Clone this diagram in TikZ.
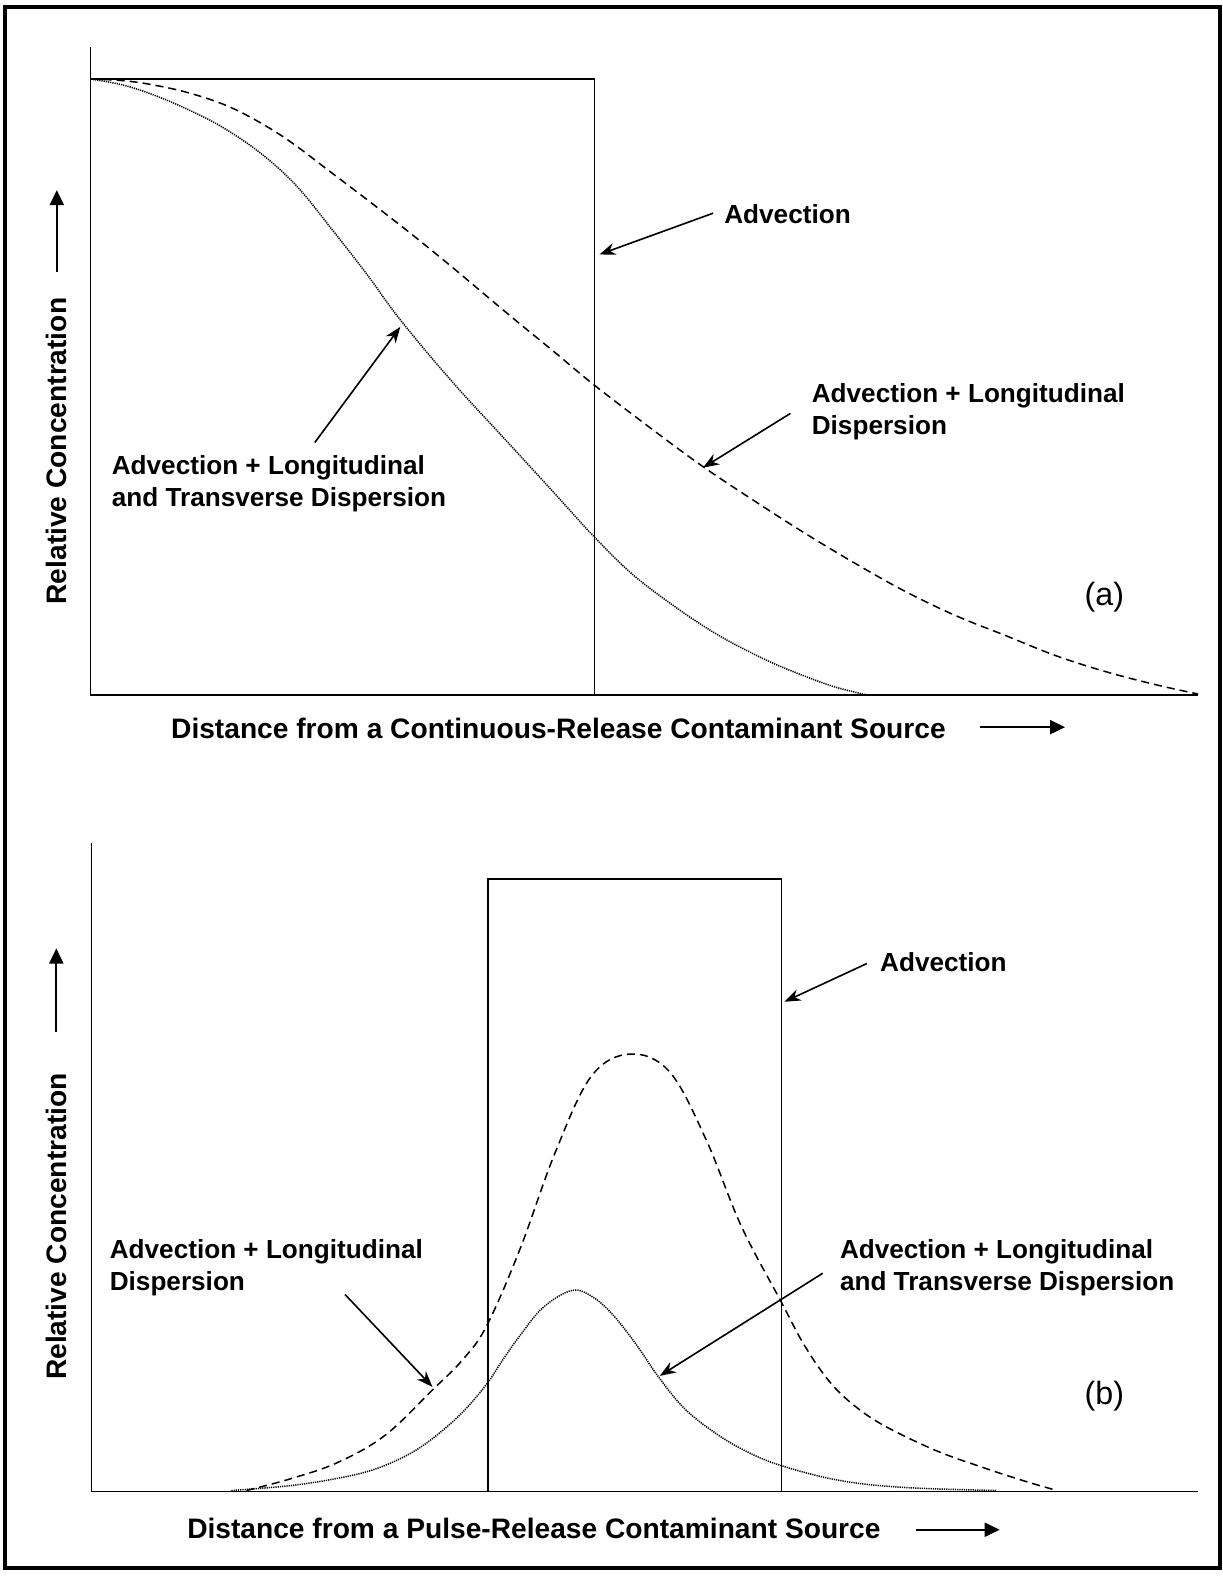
\documentclass[tikz,border=0pt]{standalone}
\usepackage{fontspec}
\setmainfont{Liberation Sans}
\usetikzlibrary{arrows.meta}
\begin{document}
\begin{tikzpicture}[x=1pt,y=-1pt,
  lab/.style={font=\fontsize{26}{30}\selectfont\bfseries, inner sep=0pt, anchor=base west},
  xlab/.style={font=\fontsize{28}{32}\selectfont\bfseries, inner sep=0pt, anchor=base west},
  ylab/.style={font=\fontsize{28}{32}\selectfont\bfseries, inner sep=0pt, anchor=base, rotate=90},
  tag/.style={font=\fontsize{32}{38}\selectfont, inner sep=0pt, anchor=base},
  axis/.style={line width=1.8pt},
  boxline/.style={line width=1.6pt},
  frameline/.style={line width=3.5pt},
  dashcurve/.style={line width=1.5pt, dash pattern=on 8pt off 5pt},
  dotcurve/.style={line width=1.5pt, dash pattern=on 1.2pt off 1pt},
  pointer/.style={line width=1.6pt, -{Stealth[length=16pt,width=12pt]}},
  dirarrow/.style={line width=1.8pt, -{Triangle[length=15pt,width=14pt]}},
]
\useasboundingbox (0,0) rectangle (1216,1568);
\fill[white] (0,0) rectangle (1216,1568);
% frame
\coordinate (f1) at (5,7);
\coordinate (f2) at (1213,1559);
\draw[frameline] (f1) rectangle (f2);

% ================= panel (a) =================
\coordinate (oA) at (90,691);
\coordinate (yAtop) at (90,46.5);
\coordinate (xAend) at (1191,691);
\draw[axis] (yAtop) -- (oA) -- (xAend);
\coordinate (bAtl) at (90,78.6);
\coordinate (bAtr) at (591,78.6);
\coordinate (bAbr) at (591,691);
\draw[boxline] (bAtl) -- (bAtr) -- (bAbr);

\draw[dashcurve] plot[smooth, tension=0.6] coordinates {
 (90,78.6) (120,80) (150,84) (190,93) (232,108) (280,135) (330,172) (398,224)
 (450,266) (506,313) (550,349) (591,383) (650,428) (699,464) (750,498)
 (800,530) (850,560) (900,588) (950,612) (1000,632) (1050,652) (1100,668)
 (1150,681) (1191,690)};
\draw[dotcurve] plot[smooth, tension=0.6] coordinates {
 (90,78.6) (120,84) (149,93) (185,108) (222,127) (260,153) (295,185) (330,228)
 (365,273) (398,318) (450,380) (506,441) (550,489) (591,534) (630,572)
 (675,606) (710,629) (739,645) (770,660) (802,673) (830,683) (862,691)};

\node[lab] (advA) at (720,222) {Advection};
\node[lab] (lonA1) at (807,400) {Advection + Longitudinal};
\node[lab] (lonA2) at (807,432) {Dispersion};
\node[lab] (traA1) at (111,472) {Advection + Longitudinal};
\node[lab] (traA2) at (111,504) {and Transverse Dispersion};
\node[xlab] (xA) at (170,734) {Distance from a Continuous-Release Contaminant Source};
\node[ylab] (yA) at (66.5,448.5) {Relative Concentration};
\node[tag] (tagA) at (1098,602) {(a)};

\coordinate (advAs) at (709,212); \coordinate (advAt) at (596,253);
\coordinate (lonAs) at (786,411); \coordinate (lonAt) at (699,465);
\coordinate (traAs) at (313,440); \coordinate (traAt) at (398,325);
\draw[pointer] (advAs) -- (advAt);
\draw[pointer] (lonAs) -- (lonAt);
\draw[pointer] (traAs) -- (traAt);
\coordinate (xAas) at (974,723); \coordinate (xAae) at (1059,723);
\draw[dirarrow] (xAas) -- (xAae);
\coordinate (yAas) at (56.5,270); \coordinate (yAae) at (56.5,189);
\draw[dirarrow] (yAas) -- (yAae);

% ================= panel (b) =================
\coordinate (oB) at (91,1483);
\coordinate (yBtop) at (91,838);
\coordinate (xBend) at (1191,1483);
\draw[axis] (yBtop) -- (oB) -- (xBend);
\coordinate (bBbl) at (485,1483);
\coordinate (bBtl) at (485,874);
\coordinate (bBtr) at (777,874);
\coordinate (bBbr) at (777,1483);
\draw[boxline] (bBbl) -- (bBtl) -- (bBtr) -- (bBbr);

\draw[dashcurve] plot[smooth, tension=0.6] coordinates {
 (245,1482) (290,1470) (336,1454) (383,1427) (430,1382) (460,1352) (484,1318)
 (517,1242) (552,1146) (588,1070) (627,1048) (666,1066) (702,1133) (737,1219)
 (776,1293) (800,1338) (825,1374) (850,1398) (880,1418) (930,1442) (977,1459)
 (1020,1473) (1051,1482)};
\draw[dotcurve] plot[smooth, tension=0.6] coordinates {
 (230,1482) (290,1477) (340,1469) (375,1460) (410,1444) (438,1424) (462,1402)
 (484,1376) (500,1352) (517,1328) (540,1300) (569,1283) (590,1290) (610,1308)
 (632,1336) (654,1368) (680,1400) (710,1424) (740,1442) (776,1457) (835,1472)
 (900,1479) (991,1482)};

\node[lab] (advB) at (875,966) {Advection};
\node[lab] (lonB1) at (109,1251) {Advection + Longitudinal};
\node[lab] (lonB2) at (109,1283) {Dispersion};
\node[lab] (traB1) at (835,1251) {Advection + Longitudinal};
\node[lab] (traB2) at (835,1283) {and Transverse Dispersion};
\node[xlab] (xB) at (186,1530) {Distance from a Pulse-Release Contaminant Source};
\node[ylab] (yB) at (66.5,1219.5) {Relative Concentration};
\node[tag] (tagB) at (1098,1396) {(b)};

\coordinate (advBs) at (862,958); \coordinate (advBt) at (780,996);
\coordinate (lonBs) at (343,1287); \coordinate (lonBt) at (430,1379);
\coordinate (traBs) at (818,1266); \coordinate (traBt) at (656,1368);
\draw[pointer] (advBs) -- (advBt);
\draw[pointer] (lonBs) -- (lonBt);
\draw[pointer] (traBs) -- (traBt);
\coordinate (xBas) at (911,1521); \coordinate (xBae) at (994,1521);
\draw[dirarrow] (xBas) -- (xBae);
\coordinate (yBas) at (56,1026); \coordinate (yBae) at (56,943);
\draw[dirarrow] (yBas) -- (yBae);
\end{tikzpicture}
\end{document}
